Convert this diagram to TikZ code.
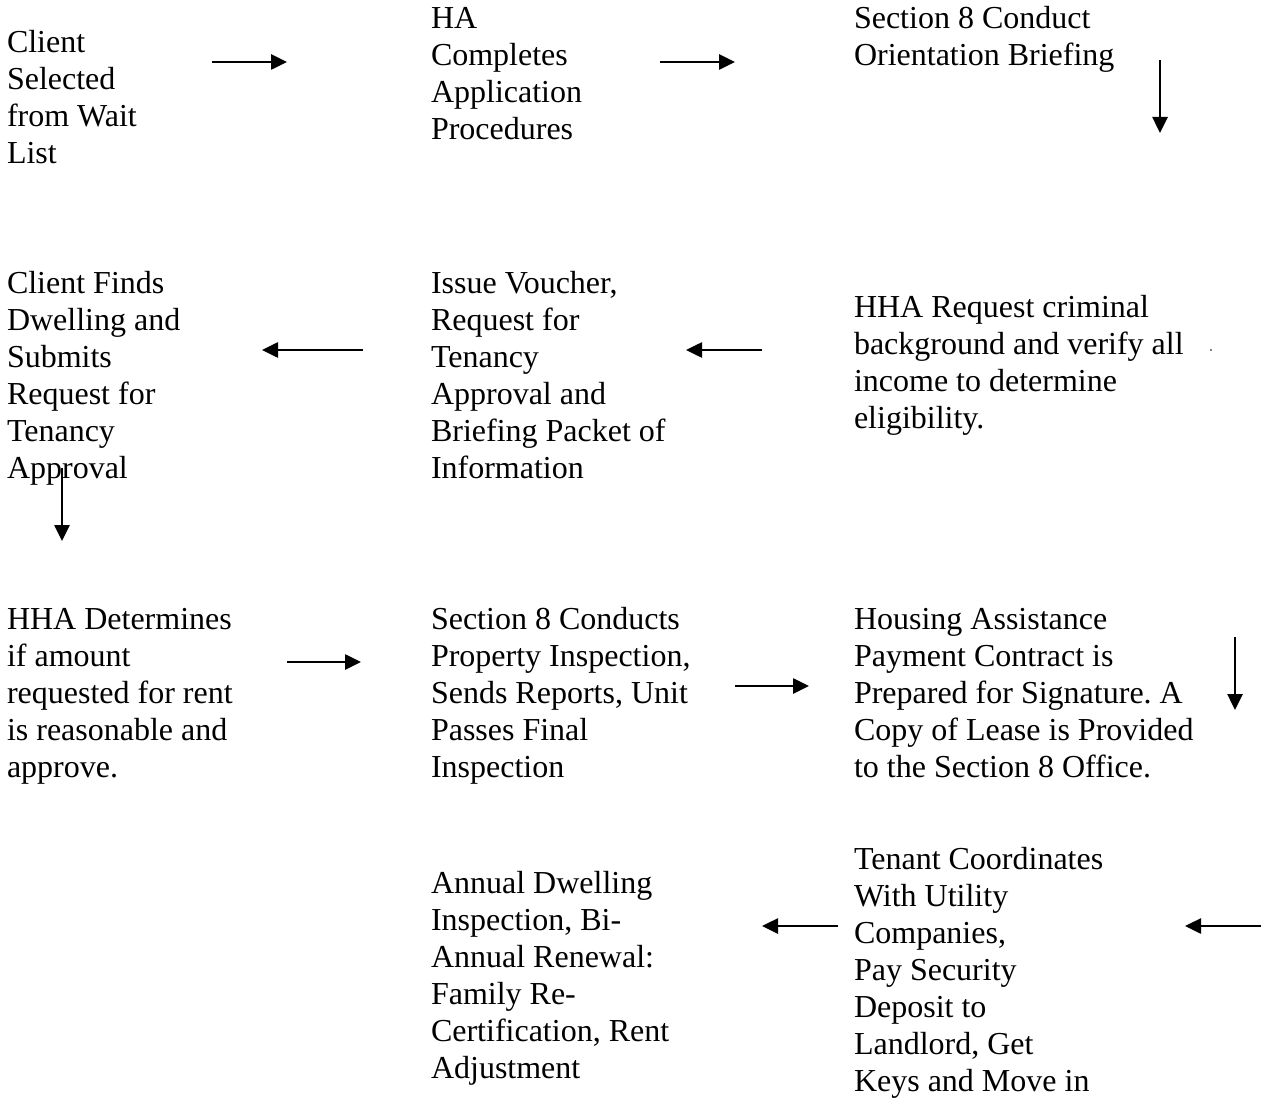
\documentclass[tikz,border=0pt]{standalone}
\usepackage{fontspec}
\setmainfont{Liberation Serif}
\usetikzlibrary{arrows.meta}
\newcommand{\fl}{\rule{0pt}{25pt}}
\begin{document}
\frenchspacing
\begin{tikzpicture}[x=1pt,y=-1pt,
  txt/.style={anchor=north west,inner sep=0pt,outer sep=0pt,align=left,
    font=\fontsize{32}{37}\selectfont},
  arr/.style={line width=2.6pt,-{Triangle[length=16pt,width=15pt]}}]
\useasboundingbox (0,0) rectangle (1265,1099);
% Row 1
\node[txt] (a) at (7,28) {\fl Client\\Selected\\from Wait\\List};
\node[txt] (b) at (431,4) {\fl HA\\Completes\\Application\\Procedures};
\node[txt] (c) at (854,4) {\fl Section 8 Conduct\\Orientation Briefing};
% Row 2
\node[txt] (d) at (7,268) {\fl Client Finds\\Dwelling and\\Submits\\Request for\\Tenancy\\Approval};
\node[txt] (e) at (431,268) {\fl Issue Voucher,\\Request for\\Tenancy\\Approval and\\Briefing Packet of\\Information};
\node[txt] (f) at (854,292) {\fl HHA Request criminal\\background and verify all\\income to determine\\eligibility.};
% Row 3
\node[txt] (g) at (7,604) {\fl HHA Determines\\if amount\\requested for rent\\is reasonable and\\approve.};
\node[txt] (h) at (431,604) {\fl Section 8 Conducts\\Property Inspection,\\Sends Reports, Unit\\Passes Final\\Inspection};
\node[txt] (i) at (854,604) {\fl Housing Assistance\\Payment Contract is\\Prepared for Signature. A\\Copy of Lease is Provided\\to the Section 8 Office.};
% Row 4
\node[txt] (j) at (431,868) {\fl Annual Dwelling\\Inspection, Bi-\\Annual Renewal:\\Family Re-\\Certification, Rent\\Adjustment};
\node[txt] (k) at (854,844) {\fl Tenant Coordinates\\With Utility\\Companies,\\Pay Security\\Deposit to\\Landlord, Get\\Keys and Move in};
% arrow end points
\coordinate (a1s) at (212,62);   \coordinate (a1e) at (287,62);
\coordinate (a2s) at (660,62);   \coordinate (a2e) at (735,62);
\coordinate (a3s) at (1160,60);  \coordinate (a3e) at (1160,133);
\coordinate (a4s) at (363,350);  \coordinate (a4e) at (262,350);
\coordinate (a5s) at (762,350);  \coordinate (a5e) at (686,350);
\coordinate (a6s) at (62,468);   \coordinate (a6e) at (62,541);
\coordinate (a7s) at (287,662);  \coordinate (a7e) at (361,662);
\coordinate (a8s) at (735,686);  \coordinate (a8e) at (809,686);
\coordinate (a9s) at (1235,637); \coordinate (a9e) at (1235,710);
\coordinate (a10s) at (838,926); \coordinate (a10e) at (762,926);
\coordinate (a11s) at (1261,926);\coordinate (a11e) at (1185,926);
\coordinate (dot) at (1211,350);
\draw[arr] (a1s) -- (a1e);
\draw[arr] (a2s) -- (a2e);
\draw[arr] (a3s) -- (a3e);
\draw[arr] (a4s) -- (a4e);
\draw[arr] (a5s) -- (a5e);
\draw[arr] (a6s) -- (a6e);
\draw[arr] (a7s) -- (a7e);
\draw[arr] (a8s) -- (a8e);
\draw[arr] (a9s) -- (a9e);
\draw[arr] (a10s) -- (a10e);
\draw[arr] (a11s) -- (a11e);
\fill (dot) circle (0.8pt);
\end{tikzpicture}
\end{document}
